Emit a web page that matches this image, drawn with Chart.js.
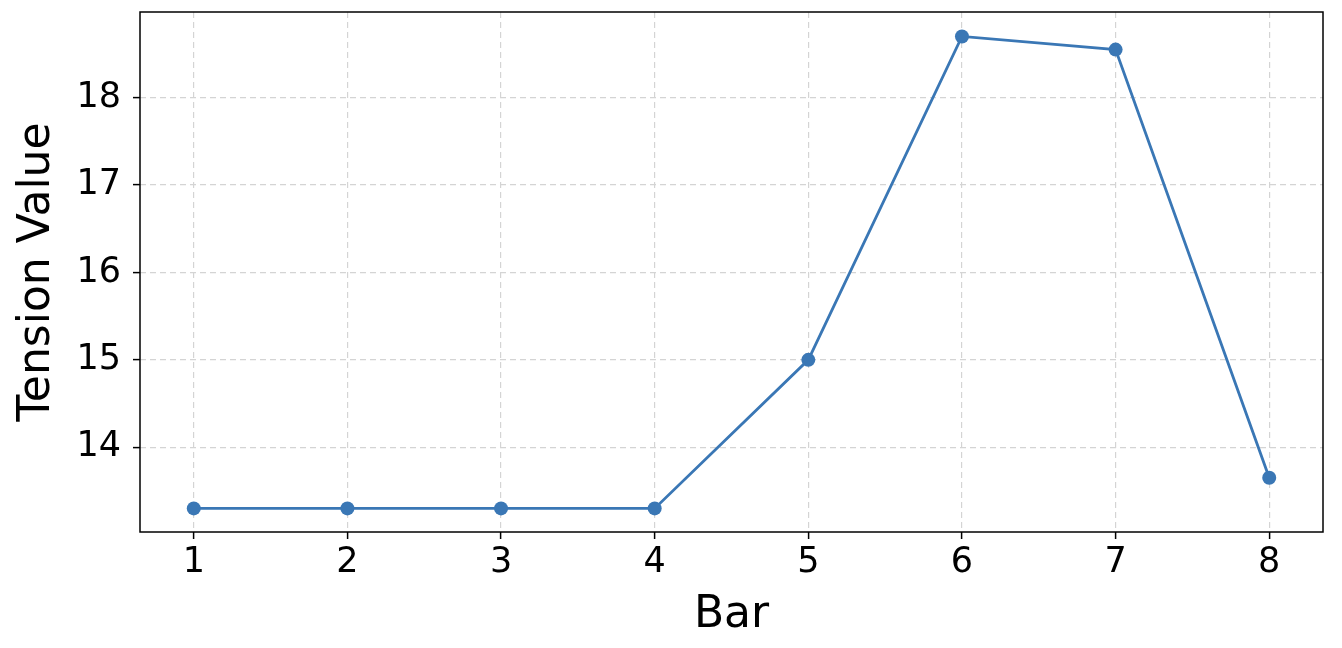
<!doctype html>
<html>
  <head>
    <title>Tension Value by Bar</title>
    <script src="https://cdn.jsdelivr.net/npm/chart.js"></script>
    <style>
      html, body { margin: 0; padding: 0; background: #ffffff; }
      #wrap { width: 1342px; height: 648px; }
    </style>
  </head>
  <body>
    <div id="wrap"><canvas id="lineChart"></canvas></div>

    <script>
      // values
      var bars = [1, 2, 3, 4, 5, 6, 7, 8];
      var tension = [13.3, 13.3, 13.3, 13.3, 15.0, 18.7, 18.55, 13.65];
      var yTicks = [14, 15, 16, 17, 18];

      var blue = "#3a77b5";
      var gridColor = "#d4d4d4";
      var fontFamily = "'DejaVu Sans', sans-serif";

      // matplotlib-like closed frame round the plot area
      var frame = {
        id: "frame",
        afterDraw: function (chart) {
          var a = chart.chartArea;
          var ctx = chart.ctx;
          ctx.save();
          ctx.strokeStyle = "#000000";
          ctx.lineWidth = 1.5;
          ctx.strokeRect(a.left, a.top, a.right - a.left, a.bottom - a.top);
          ctx.restore();
        },
      };

      var points = bars.map(function (b, i) {
        return { x: b, y: tension[i] };
      });

      var gridOpts = {
        color: gridColor,
        lineWidth: 1.2,
        tickColor: "#000000",
        tickLength: 7,
        tickWidth: 1.5,
        tickBorderDash: [],
      };

      var ctx = document.getElementById("lineChart").getContext("2d");
      var chart = new Chart(ctx, {
        type: "line",
        data: {
          datasets: [
            {
              label: "Tension",
              data: points,
              borderColor: blue,
              backgroundColor: blue,
              borderWidth: 2.8,
              pointRadius: 7,
              pointBackgroundColor: blue,
              pointBorderWidth: 0,
              fill: false,
              tension: 0,
            },
          ],
        },
        options: {
          responsive: true,
          maintainAspectRatio: false,
          animation: false,
          layout: { padding: { left: 0, top: 12, right: 19, bottom: 0 } },
          plugins: {
            legend: { display: false },
            tooltip: { enabled: false },
          },
          scales: {
            x: {
              type: "linear",
              min: 0.65,
              max: 8.35,
              afterBuildTicks: function (scale) {
                scale.ticks = bars.map(function (v) { return { value: v }; });
              },
              afterFit: function (scale) {
                scale.height = 116;
                scale.paddingLeft = 0;
                scale.paddingRight = 0;
              },
              ticks: {
                color: "#000000",
                padding: 3,
                font: { family: fontFamily, size: 35 },
              },
              grid: gridOpts,
              border: { display: false, dash: [6, 4] },
              title: {
                display: true,
                text: "Bar",
                color: "#000000",
                font: { family: fontFamily, size: 44 },
                padding: { top: 0, bottom: 6 },
              },
            },
            y: {
              type: "linear",
              min: 13.03,
              max: 18.98,
              afterBuildTicks: function (scale) {
                scale.ticks = yTicks.map(function (v) { return { value: v }; });
              },
              afterFit: function (scale) {
                scale.width = 140;
                scale.paddingTop = 0;
                scale.paddingBottom = 0;
              },
              ticks: {
                color: "#000000",
                padding: 12,
                font: { family: fontFamily, size: 35 },
              },
              grid: gridOpts,
              border: { display: false, dash: [6, 4] },
              title: {
                display: true,
                text: "Tension Value",
                color: "#000000",
                font: { family: fontFamily, size: 44 },
                padding: { top: 11, bottom: 0 },
              },
            },
          },
        },
        plugins: [frame],
      });
    </script>
  </body>
</html>
